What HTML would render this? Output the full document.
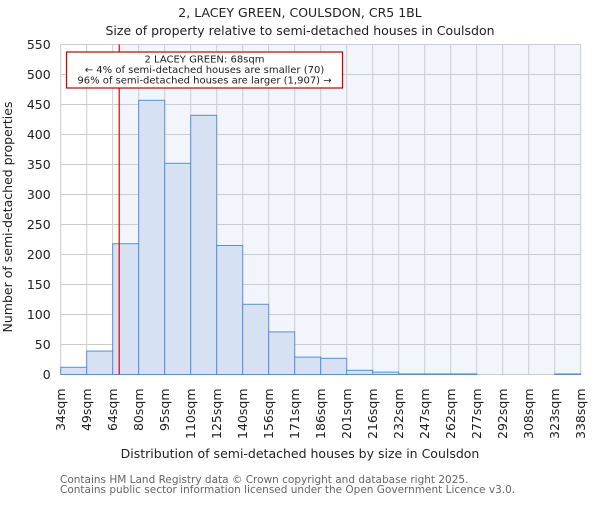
<!DOCTYPE html>
<html><head><meta charset="utf-8"><style>
body{margin:0;background:#fff;}
svg text{font-family:"DejaVu Sans","Liberation Sans",sans-serif;}
</style></head><body>
<svg width="600" height="500" viewBox="0 0 600 500">
<text x="300" y="17" text-anchor="middle" font-size="12.5" fill="#222">2, LACEY GREEN, COULSDON, CR5 1BL</text>
<text x="300" y="35" text-anchor="middle" font-size="12.5" fill="#222">Size of property relative to semi-detached houses in Coulsdon</text>
<g id="plot"></g>
<text x="300" y="458" text-anchor="middle" font-size="12.5" fill="#222">Distribution of semi-detached houses by size in Coulsdon</text>
<text transform="translate(12,217) rotate(-90)" text-anchor="middle" font-size="12.5" fill="#222">Number of semi-detached properties</text>
<text x="60" y="483" font-size="10.5" fill="#666">Contains HM Land Registry data © Crown copyright and database right 2025.</text>
<text x="60" y="493" font-size="10.5" fill="#666">Contains public sector information licensed under the Open Government Licence v3.0.</text>
</svg>
<script>
const binLabels=["34sqm","49sqm","64sqm","80sqm","95sqm","110sqm","125sqm","140sqm","156sqm","171sqm","186sqm","201sqm","216sqm","232sqm","247sqm","262sqm","277sqm","292sqm","308sqm","323sqm","338sqm"];
const counts=[12,39,218,457,352,432,215,117,71,29,27,7,4,1,1,1,0,0,0,1];
const yTicks=[0,50,100,150,200,250,300,350,400,450,500,550];
const propertyBinPos=2.25; // 68sqm in bin units
const NS="http://www.w3.org/2000/svg";
const L=60.7,R=580.7,T=44.5,B=374.5,YMAX=550;
const xs=i=>L+i*(R-L)/counts.length;
const ys=v=>B-v/YMAX*(B-T);
const g=document.getElementById('plot');
function mk(t,a){const e=document.createElementNS(NS,t);for(const k in a)e.setAttribute(k,a[k]);g.appendChild(e);return e;}
const px=xs(propertyBinPos);
let e=mk('rect',{x:px,y:T,width:R-px,height:B-T,fill:'#f2f5fc'});


yTicks.forEach(v=>{const l=mk('line',{x1:L,x2:R,y1:ys(v),y2:ys(v),stroke:'#ccc','stroke-width':1});


const t=mk('text',{x:L-10,y:ys(v)+4.5,'text-anchor':'end','font-size':12.5,fill:'#222'});t.textContent=v;

});
binLabels.forEach((s,i)=>{const l=mk('line',{x1:xs(i),x2:xs(i),y1:T,y2:B,stroke:'#ccc','stroke-width':1});


const t=mk('text',{transform:`translate(${xs(i)+4.5},${B+14}) rotate(-90)`,'text-anchor':'end','font-size':12.5,fill:'#222'});t.textContent=s;

});
counts.forEach((c,i)=>{if(c<=0)return;const r=mk('rect',{x:xs(i),y:ys(c),width:xs(i+1)-xs(i),height:B-ys(c),fill:'#d6e1f3',stroke:'#5b8fd6','stroke-width':1});

});
e=mk('line',{x1:px,x2:px,y1:T,y2:B,stroke:'#d00','stroke-width':1.2});


e=mk('rect',{x:66.5,y:52,width:276,height:36,fill:'#fff',stroke:'#c00','stroke-width':1.2});


["2 LACEY GREEN: 68sqm","← 4% of semi-detached houses are smaller (70)","96% of semi-detached houses are larger (1,907) →"].forEach((s,i)=>{const t=mk('text',{x:204.5,y:62.5+i*10.5,'text-anchor':'middle','font-size':10,fill:'#222'});t.textContent=s;

});
</script>
</body></html>
